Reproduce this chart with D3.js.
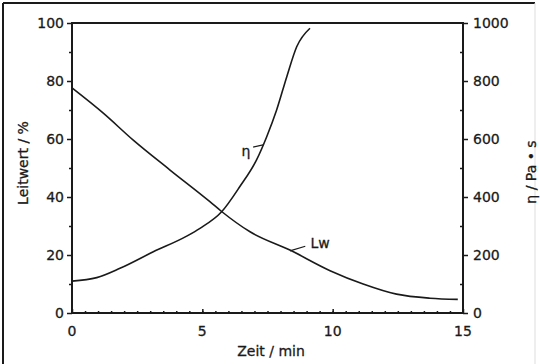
<!DOCTYPE html>
<html>
<head>
<meta charset="utf-8">
<script src="https://cdn.jsdelivr.net/npm/d3@7"></script>
<style>
  body { margin: 0; background: #fff; }
  svg { display: block; font-family: "DejaVu Sans", sans-serif; }
  text { fill: #1a1a1a; stroke: #1a1a1a; stroke-width: 0.3; }
</style>
</head>
<body>
<svg id="chart" width="540" height="364"></svg>
<script>
// conductivity (Leitwert, left axis, %)
var lwTime  = [0, 1.2, 2.35, 3.76, 5.29, 5.74, 6.83, 8.36, 9.9, 11.17, 12.45, 13.73, 14.8];
var lwValue = [77.6, 68.9, 59.6, 49.3, 38.4, 35.0, 28.0, 21.7, 14.6, 10.0, 6.5, 5.1, 4.7];

// viscosity (eta, right axis, Pa*s)
var etaTime  = [0, 0.95, 1.84, 3.12, 4.4, 4.91, 5.74, 6.44, 7.08, 7.47, 7.85, 8.24, 8.62, 9.13];
var etaValue = [110, 122, 154, 211, 265, 292, 349, 436, 528, 608, 700, 815, 918, 982];

var xTicks = [0, 5, 10, 15];
var leftTicks = [0, 20, 40, 60, 80, 100];
var rightTicks = [0, 200, 400, 600, 800, 1000];

var svg = d3.select("#chart");
var ink = "#1a1a1a";

// plot box edges (window.top is reserved, so own names here)
var boxL = 72, boxR = 463, boxT = 23, boxB = 313;

var x = d3.scaleLinear().domain([0, 15]).range([boxL, boxR]);
var yL = d3.scaleLinear().domain([0, 100]).range([boxB, boxT]);
var yR = d3.scaleLinear().domain([0, 1000]).range([boxB, boxT]);

// outer frame: dark top/left, faint right edge (scan is cropped)
svg.append("line").attr("x1", 3).attr("y1", 3).attr("x2", 535).attr("y2", 3)
  .attr("stroke", ink).attr("stroke-width", 2);
svg.append("line").attr("x1", 3).attr("y1", 3).attr("x2", 3).attr("y2", 364)
  .attr("stroke", ink).attr("stroke-width", 2);
svg.append("line").attr("x1", 535).attr("y1", 3).attr("x2", 535).attr("y2", 364)
  .attr("stroke", "#ddd").attr("stroke-width", 1);

// plot box
svg.append("rect")
  .attr("x", boxL).attr("y", boxT).attr("width", boxR - boxL).attr("height", boxB - boxT)
  .attr("fill", "none").attr("stroke", ink).attr("stroke-width", 2);

// left axis
var gl = svg.append("g").attr("transform", "translate(" + boxL + ",0)");
gl.append("g").call(d3.axisLeft(yL).tickValues(d3.range(10, 100, 20)).tickSize(3).tickFormat(""));
gl.append("g").call(d3.axisLeft(yL).tickValues(leftTicks).tickSize(5).tickPadding(3).tickFormat(d3.format("d")));

// right axis
var gr = svg.append("g").attr("transform", "translate(" + boxR + ",0)");
gr.append("g").call(d3.axisLeft(yR).tickValues(d3.range(100, 1000, 200)).tickSize(3).tickFormat(""));
gr.append("g").call(d3.axisRight(yR).tickValues(rightTicks).tickSize(5).tickPadding(5).tickFormat(d3.format("d")));

// bottom axis
var gb = svg.append("g").attr("transform", "translate(0," + boxB + ")");
gb.append("g").call(d3.axisTop(x).tickValues(d3.range(0.5, 15, 0.5)).tickSize(2).tickFormat(""));
gb.append("g").call(d3.axisTop(x).tickValues(xTicks).tickSize(4).tickFormat(""));
gb.selectAll(".lbl").data(xTicks).enter().append("text")
  .attr("x", function(d) { return x(d); })
  .attr("y", 23)
  .attr("text-anchor", "middle")
  .attr("font-size", 14)
  .text(function(d) { return d; });

svg.selectAll(".domain").remove();
svg.selectAll(".tick line").attr("stroke", ink).attr("stroke-width", 1.5);
svg.selectAll(".tick text").attr("font-size", 14).attr("fill", ink)
  .attr("font-family", "DejaVu Sans, sans-serif");

// axis titles
svg.append("text")
  .attr("x", 271).attr("y", 356)
  .attr("text-anchor", "middle").attr("font-size", 14)
  .text("Zeit / min");

svg.append("text")
  .attr("transform", "translate(28,163) rotate(-90)")
  .attr("text-anchor", "middle").attr("font-size", 14)
  .text("Leitwert / %");

svg.append("text")
  .attr("transform", "translate(536,172) rotate(-90)")
  .attr("text-anchor", "middle").attr("font-size", 14)
  .text("η / Pa • s");

// curves
var lwLine = d3.line()
  .x(function(d, i) { return x(lwTime[i]); })
  .y(function(d) { return yL(d); })
  .curve(d3.curveMonotoneX);

var etaLine = d3.line()
  .x(function(d, i) { return x(etaTime[i]); })
  .y(function(d) { return yR(d); })
  .curve(d3.curveMonotoneX);

svg.append("path").datum(lwValue).attr("d", lwLine)
  .attr("fill", "none").attr("stroke", ink).attr("stroke-width", 1.6);
svg.append("path").datum(etaValue).attr("d", etaLine)
  .attr("fill", "none").attr("stroke", ink).attr("stroke-width", 1.6);

// curve labels with leaders
svg.append("line")
  .attr("x1", x(6.95)).attr("y1", yR(572))
  .attr("x2", x(7.33)).attr("y2", yR(580))
  .attr("stroke", ink).attr("stroke-width", 1.2);
svg.append("text")
  .attr("x", x(6.67)).attr("y", yR(540))
  .attr("text-anchor", "middle").attr("font-size", 14)
  .text("η");

svg.append("line")
  .attr("x1", x(8.36)).attr("y1", yL(21.4))
  .attr("x2", x(8.95)).attr("y2", yL(23))
  .attr("stroke", ink).attr("stroke-width", 1.2);
svg.append("text")
  .attr("x", x(9.15)).attr("y", yL(22.3))
  .attr("font-size", 14)
  .text("Lw");
</script>
</body>
</html>
